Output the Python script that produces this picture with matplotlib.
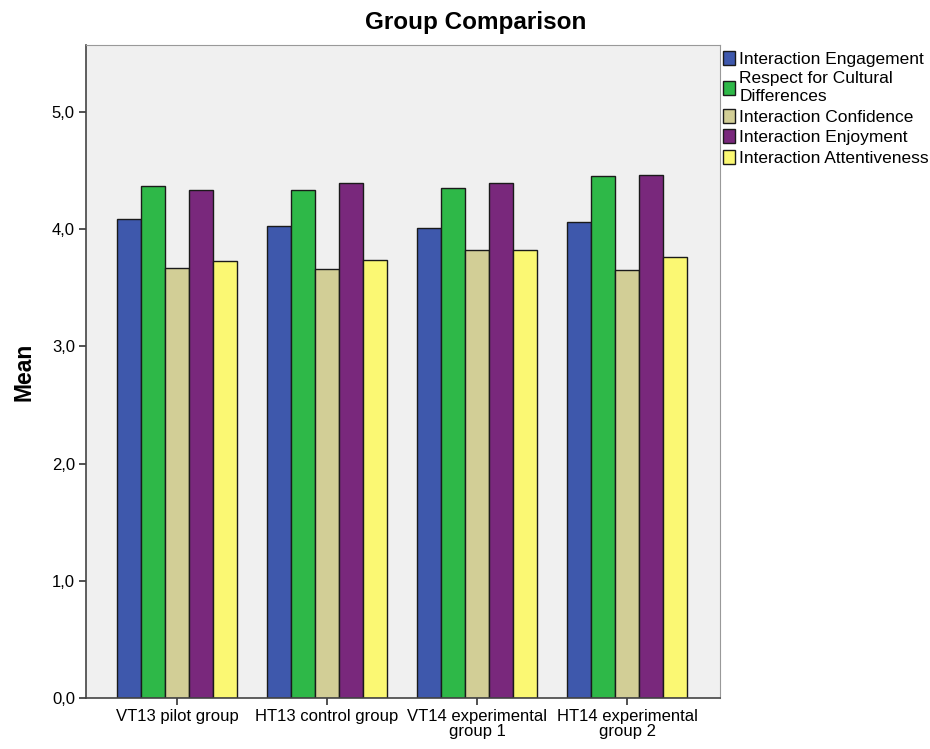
import numpy as np
import matplotlib
matplotlib.use('Agg')
import matplotlib.pyplot as plt
from matplotlib.ticker import FuncFormatter

plt.rcParams['font.family'] = ['Liberation Sans', 'DejaVu Sans']

groups = ['VT13 pilot group', 'HT13 control group',
          'VT14 experimental\ngroup 1', 'HT14 experimental\ngroup 2']
series = ['Interaction Engagement', 'Respect for Cultural\nDifferences',
          'Interaction Confidence', 'Interaction Enjoyment',
          'Interaction Attentiveness']
engagement = [4.09, 4.03, 4.01, 4.06]
respect = [4.37, 4.33, 4.35, 4.45]
confidence = [3.67, 3.66, 3.82, 3.65]
enjoyment = [4.33, 4.39, 4.39, 4.46]
attentiveness = [3.73, 3.74, 3.82, 3.76]
colors = ['#3e58ac', '#2eb848', '#d2ce96', '#79287c', '#fbf873']

values = [engagement, respect, confidence, enjoyment, attentiveness]

fig = plt.figure(figsize=(9.3, 7.49), dpi=100)
ax = fig.add_axes([86/930, 1 - 698/749, (720-86)/930, (698-45)/749])
ax.set_facecolor('#f0f0f0')

x = np.arange(len(groups))
w = 0.161
for i, (vals, lab, col) in enumerate(zip(values, series, colors)):
    ax.bar(x + (i - 2) * w, vals, w, color=col, edgecolor='#1a1a1a',
           linewidth=1.0, label=lab)

ax.set_xlim(-0.607, 3.62)
ax.set_ylim(0, 5.57)
ax.set_yticks([0, 1, 2, 3, 4, 5])
ax.yaxis.set_major_formatter(FuncFormatter(lambda v, p: ('%.1f' % v).replace('.', ',')))
ax.set_xticks(x)
ax.set_xticklabels(groups, fontsize=12, linespacing=1.0)
ax.tick_params(axis='y', labelsize=12, length=5, width=1.2, color='#333333', pad=3)
ax.tick_params(axis='x', length=5, width=1.2, color='#333333', pad=3)
for s in ['left', 'bottom']:
    ax.spines[s].set_color('#444444')
    ax.spines[s].set_linewidth(1.2)
for s in ['top', 'right']:
    ax.spines[s].set_color('#999999')
    ax.spines[s].set_linewidth(0.8)

ax.set_ylabel('Mean', fontsize=16.5, fontweight='bold')
ax.yaxis.set_label_coords(-0.079, 0.5)
fig.text(476/930, 1 - 22/749, 'Group Comparison', ha='center',
         va='center', fontsize=17.5, fontweight='bold')

leg = ax.legend(loc='upper left', bbox_to_anchor=(1.0, 0.995), frameon=False,
                fontsize=12.5, handlelength=0.72, handleheight=0.85,
                handletextpad=0.25, labelspacing=0.27, borderaxespad=0.0,
                borderpad=0.15)
for t in leg.get_texts():
    t.set_linespacing(1.22)

fig.savefig('out.png', dpi=100, facecolor='white')
